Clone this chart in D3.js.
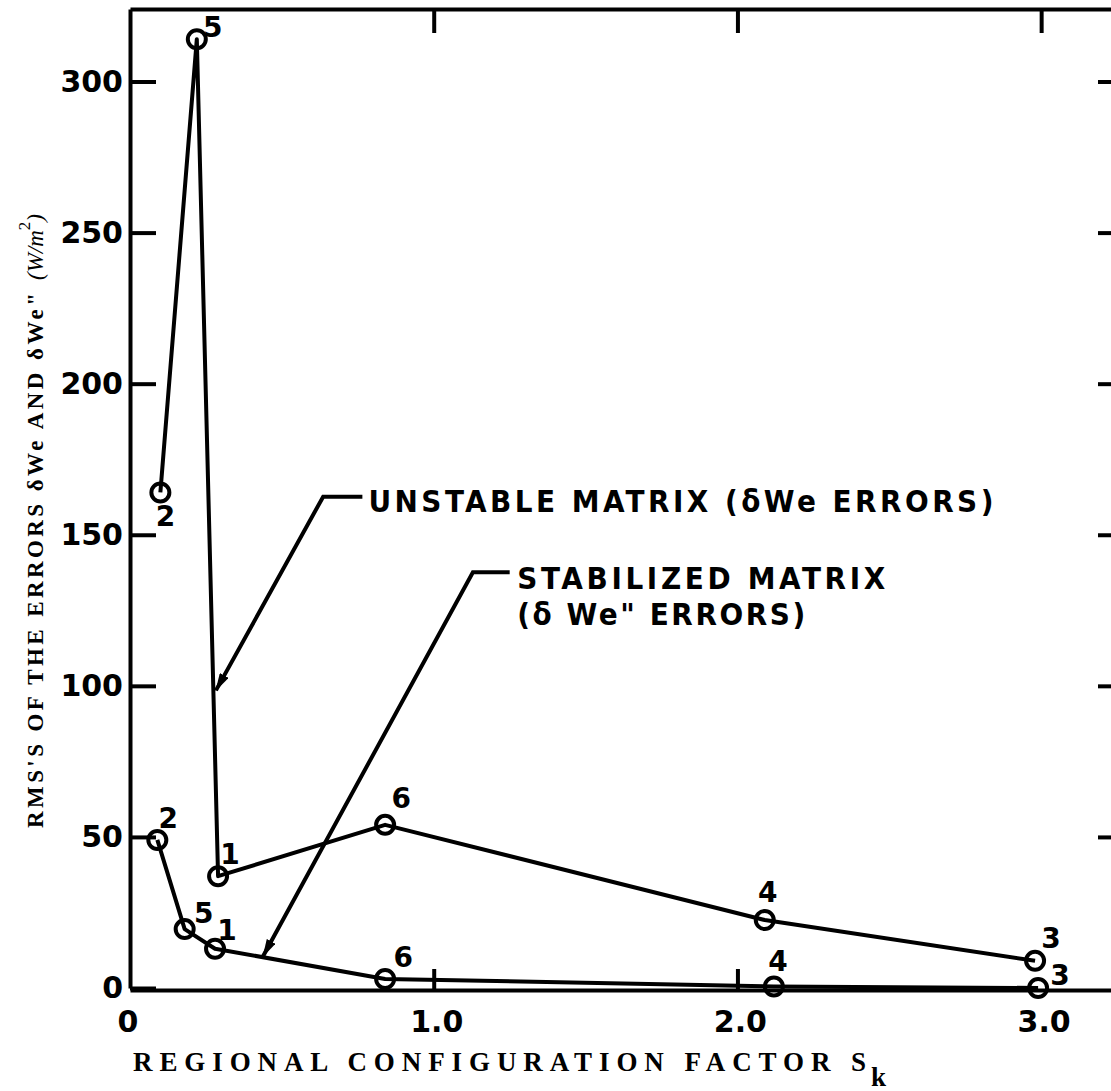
<!DOCTYPE html>
<html>
<head>
<meta charset="utf-8">
<script src="https://cdn.jsdelivr.net/npm/d3@7"></script>
<style>
  body { margin: 0; background: #fff; }
  svg { display: block; }
</style>
</head>
<body>
<svg id="chart"></svg>
<script>
// chart values
var regionLabels = ["2", "5", "1", "6", "4", "3"];
var unstableSk = [0.10, 0.22, 0.29, 0.84, 2.09, 2.98];
var unstableRms = [164, 314, 37, 54, 22.5, 9];
var stabilizedSk = [0.09, 0.18, 0.28, 0.84, 2.12, 2.99];
var stabilizedRms = [49, 19.5, 13, 3, 0.5, 0];
var yTicks = [0, 50, 100, 150, 200, 250, 300];
var xTicks = [0, 1, 2, 3];

const W = 1111, H = 1091;
var margin = {top: 9, right: 0, bottom: 103, left: 130};

var svg = d3.select("#chart")
    .attr("width", W)
    .attr("height", H);

var x = d3.scaleLinear().domain([0, 3.23]).range([margin.left, W - margin.right]);
var y = d3.scaleLinear().domain([0, 324]).range([H - margin.bottom, margin.top]);

var ink = "#000";
var numFont = "'DejaVu Sans', sans-serif";

// arrow head
svg.append("defs").append("marker")
    .attr("id", "head")
    .attr("viewBox", "0 0 18 10")
    .attr("refX", 17).attr("refY", 5)
    .attr("markerWidth", 18).attr("markerHeight", 10)
    .attr("markerUnits", "userSpaceOnUse")
    .attr("orient", "auto")
  .append("path")
    .attr("d", "M0,0 L18,5 L0,10 Z")
    .attr("fill", ink);

// left axis, ticks point inward
svg.append("g")
    .attr("class", "axis")
    .attr("transform", "translate(" + x(0) + ",0)")
    .call(d3.axisLeft(y).tickValues(yTicks).tickSizeInner(-26).tickSizeOuter(0)
      .tickPadding(7).tickFormat(d3.format("d")));

// right ticks only
svg.append("g")
    .attr("class", "axis noline")
    .attr("transform", "translate(" + W + ",0)")
    .call(d3.axisRight(y).tickValues(yTicks.slice(1)).tickSizeInner(-13).tickSizeOuter(0).tickFormat(""));

// bottom axis
svg.append("g")
    .attr("class", "axis")
    .attr("transform", "translate(0," + (y(0) + 2) + ")")
    .call(d3.axisBottom(x).tickValues([1, 2]).tickSizeInner(-21).tickSizeOuter(0).tickFormat(""));

svg.append("g")
    .selectAll("text")
    .data(xTicks)
    .enter()
    .append("text")
      .attr("x", function(d) { return x(d) + (d == 0 ? -2 : 3); })
      .attr("y", y(0) + 44)
      .attr("text-anchor", "middle")
      .style("font-family", numFont)
      .style("font-weight", "bold")
      .style("font-size", "30px")
      .text(function(d) { return d == 0 ? "0" : d.toFixed(1); });

// top axis
svg.append("g")
    .attr("class", "axis")
    .attr("transform", "translate(0," + y.range()[1] + ")")
    .call(d3.axisTop(x).tickValues([1, 2, 3]).tickSizeInner(-24).tickSizeOuter(0).tickFormat(""));

svg.selectAll(".axis path.domain")
    .attr("stroke", ink).attr("stroke-width", 4);
svg.selectAll(".noline path.domain").remove();
svg.selectAll(".axis line")
    .attr("stroke", ink).attr("stroke-width", 4);
svg.selectAll(".axis text")
    .style("font-family", numFont)
    .style("font-weight", "bold")
    .style("font-size", "30px")
    .attr("fill", ink);

// series
var unstable = unstableSk.map(function(d, i) { return {x: d, y: unstableRms[i], n: regionLabels[i]}; });
var stabilized = stabilizedSk.map(function(d, i) { return {x: d, y: stabilizedRms[i], n: regionLabels[i]}; });

var line = d3.line()
    .x(function(d) { return x(d.x); })
    .y(function(d) { return y(d.y); });

[unstable, stabilized].forEach(function(s) {
  svg.append("path")
      .datum(s)
      .attr("d", line)
      .attr("fill", "none")
      .attr("stroke", ink)
      .attr("stroke-width", 4)
      .attr("stroke-linejoin", "round");
  svg.append("g").selectAll("circle")
    .data(s)
    .enter()
    .append("circle")
      .attr("cx", function(d) { return x(d.x); })
      .attr("cy", function(d) { return y(d.y); })
      .attr("r", 9)
      .attr("fill", "none")
      .attr("stroke", ink)
      .attr("stroke-width", 4);
});

// region numbers beside the points (pixel offsets)
var unstableOff = [[5, 34], [16, -2], [12, -12], [16, -17], [3, -18], [16, -13]];
var stabilizedOff = [[11, -12], [19, -6], [12, -9], [18, -12], [4, -15], [22, -3]];

function numbers(s, off) {
  svg.append("g").selectAll("text")
    .data(s)
    .enter()
    .append("text")
      .attr("x", function(d, i) { return x(d.x) + off[i][0]; })
      .attr("y", function(d, i) { return y(d.y) + off[i][1]; })
      .attr("text-anchor", "middle")
      .style("font-family", numFont)
      .style("font-weight", "bold")
      .style("font-size", "28px")
      .text(function(d) { return d.n; });
}
numbers(unstable, unstableOff);
numbers(stabilized, stabilizedOff);

// callouts, anchored in data units
function callout(tip, corner, textX) {
  svg.append("path")
      .attr("d", d3.line()([[x(textX) - 3, y(corner[1])], [x(corner[0]), y(corner[1])], [x(tip[0]), y(tip[1])]]))
      .attr("fill", "none")
      .attr("stroke", ink)
      .attr("stroke-width", 4)
      .attr("marker-end", "url(#head)");
}
callout([0.283, 98.5], [0.636, 162.6], 0.775);
callout([0.438, 10.5], [1.129, 137.6], 1.26);

var calloutFont = "'DejaVu Sans Condensed', 'DejaVu Sans', sans-serif";
function note(tx, ty, str, len) {
  svg.append("text")
      .attr("x", x(tx))
      .attr("y", y(ty))
      .attr("textLength", len)
      .attr("lengthAdjust", "spacing")
      .style("font-family", calloutFont)
      .style("font-weight", "bold")
      .style("font-size", "31px")
      .text(str);
}
note(0.785, 157.5, "UNSTABLE  MATRIX  (\u03b4We  ERRORS)", 625);
note(1.275, 132.2, "STABILIZED  MATRIX", 368);
note(1.275, 120.3, "(\u03b4  We\" ERRORS)", 288);

// axis titles
var serif = "'Liberation Serif', 'DejaVu Serif', serif";
svg.append("text")
    .attr("x", 133)
    .attr("y", 1071)
    .attr("textLength", 733)
    .attr("lengthAdjust", "spacing")
    .style("font-family", serif)
    .style("font-weight", "bold")
    .style("font-size", "27px")
    .text("REGIONAL CONFIGURATION FACTOR S");
svg.append("text")
    .attr("x", 871)
    .attr("y", 1086)
    .style("font-family", serif)
    .style("font-weight", "bold")
    .style("font-size", "27px")
    .text("k");

var yt = svg.append("text")
    .attr("transform", "translate(43,828) rotate(-90)")
    .style("font-family", serif)
    .style("font-weight", "bold")
    .style("font-size", "23px");
yt.append("tspan")
    .attr("textLength", 535)
    .attr("lengthAdjust", "spacing")
    .text("RMS'S OF THE ERRORS \u03b4We AND \u03b4We\"");
yt.append("tspan")
    .attr("x", 548)
    .style("font-style", "italic")
    .style("font-weight", "normal")
    .text("(W/m");
yt.append("tspan")
    .attr("dy", -13)
    .style("font-size", "17px")
    .style("font-weight", "normal")
    .text("2");
yt.append("tspan")
    .attr("dy", 13)
    .style("font-style", "italic")
    .style("font-weight", "normal")
    .text(")");
</script>
</body>
</html>
